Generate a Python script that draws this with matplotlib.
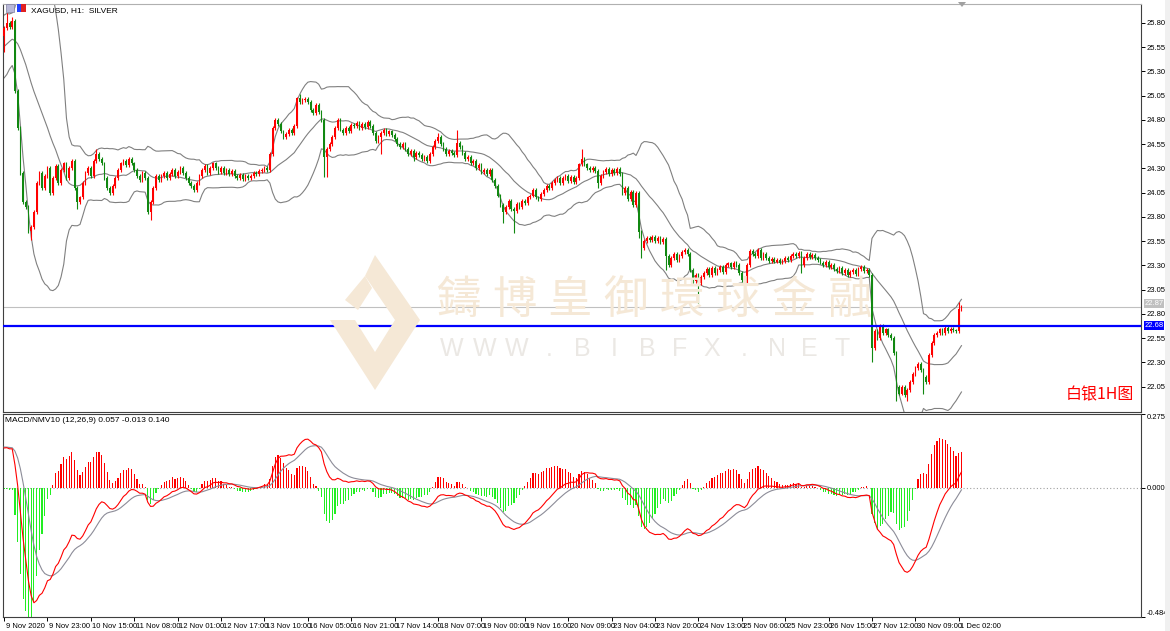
import matplotlib
matplotlib.use('Agg')
import matplotlib.pyplot as plt
from matplotlib.patches import Rectangle, Polygon
from matplotlib.transforms import blended_transform_factory, ScaledTranslation
import pandas as pd

plt.rcParams['font.family'] = ['Liberation Sans', 'DejaVu Sans']

# H1 closes before the first visible bar (only feed the indicators)
history = [24.62, 24.70, 24.66, 24.75, 24.80, 24.78, 24.85, 24.82, 24.90, 24.95,
           24.92, 24.98, 25.02, 24.97, 25.05, 25.10, 25.06, 25.12, 25.15, 25.10,
           25.12, 25.18, 25.14, 25.20, 25.24, 25.19, 25.26, 25.22, 25.28, 25.25,
           25.22, 25.28, 25.25, 25.34, 25.40, 25.36, 25.45, 25.50, 25.46, 25.55,
           25.60, 25.56, 25.64, 25.70, 25.66, 25.74, 25.78, 25.72, 25.70, 25.66]

# visible H1 closes, 9 Nov 2020 -> 1 Dec 2020
closes = [
    25.75, 25.80, 25.76, 25.82, 25.10, 24.72, 24.25, 23.95, 23.90, 23.65, 23.70, 23.85, 24.15,
    24.25, 24.10, 24.22, 24.30, 24.05, 24.20, 24.32, 24.15, 24.28, 24.35, 24.20,
    24.30, 24.38, 24.10, 23.95, 24.00, 24.15, 24.25,
    24.30, 24.22, 24.38, 24.45, 24.40, 24.35,
    24.20, 24.10, 24.05, 24.12, 24.20, 24.28, 24.35, 24.38, 24.33, 24.40,
    24.35, 24.28, 24.22, 24.18, 24.25, 24.20,
    23.85, 23.95, 24.10, 24.22,
    24.18, 24.22, 24.25, 24.20, 24.24, 24.28, 24.22, 24.26, 24.30, 24.25,
    24.20, 24.15, 24.12, 24.08, 24.15, 24.22, 24.28, 24.32, 24.25, 24.30,
    24.35, 24.30, 24.26, 24.30, 24.25, 24.28, 24.24, 24.27, 24.22, 24.20,
    24.23, 24.19, 24.22, 24.20, 24.22, 24.25, 24.24, 24.27, 24.28, 24.30,
    24.28,
    24.45, 24.72, 24.80, 24.76,
    24.68, 24.62, 24.65, 24.70, 24.66, 24.74,
    25.02,
    24.98, 25.00, 25.01, 24.98,
    24.90, 24.87, 24.95, 24.88, 24.80,
    24.42,
    24.50, 24.55,
    24.62, 24.72, 24.80,
    24.70, 24.66, 24.72, 24.68,
    24.75, 24.74, 24.77, 24.72, 24.76, 24.73, 24.78, 24.74,
    24.66, 24.58, 24.62, 24.66,
    24.70, 24.65, 24.68, 24.64,
    24.60, 24.55, 24.52, 24.55, 24.50,
    24.45, 24.48, 24.42, 24.46, 24.44,
    24.40, 24.42, 24.38,
    24.45, 24.52, 24.58, 24.62,
    24.55, 24.50, 24.45, 24.48,
    24.46, 24.44, 24.56, 24.52,
    24.46, 24.40, 24.42, 24.35, 24.38, 24.30, 24.33, 24.26, 24.28, 24.24, 24.28,
    24.18, 24.12,
    24.02, 23.92, 23.85, 23.90,
    23.96, 23.88, 23.86, 23.93,
    23.90, 23.96, 23.94, 24.00, 24.02,
    24.08, 24.00, 23.98, 24.04,
    24.08, 24.12, 24.10, 24.15, 24.18,
    24.20, 24.15, 24.20, 24.22, 24.17, 24.21, 24.16, 24.20,
    24.34, 24.40,
    24.34, 24.30, 24.28,
    24.30, 24.27,
    24.15, 24.22,
    24.26, 24.29, 24.24, 24.28, 24.25, 24.29, 24.24,
    24.05,
    24.10, 23.98, 24.06, 23.92, 24.05,
    23.64,
    23.48, 23.55, 23.58,
    23.56, 23.59, 23.55, 23.58, 23.54, 23.57,
    23.40, 23.30,
    23.38, 23.42, 23.36, 23.40,
    23.44, 23.46, 23.42,
    23.25, 23.14,
    23.20, 23.12, 23.18, 23.22,
    23.26, 23.20, 23.27, 23.22, 23.25, 23.28, 23.23, 23.30,
    23.32, 23.28, 23.33, 23.30,
    23.22, 23.15, 23.12,
    23.30, 23.45, 23.42,
    23.40, 23.46, 23.38, 23.42,
    23.38, 23.35, 23.37, 23.34, 23.36, 23.33, 23.35, 23.38, 23.36, 23.40, 23.42,
    23.40, 23.43,
    23.30,
    23.38, 23.42, 23.39, 23.41, 23.38, 23.36,
    23.33, 23.30, 23.34, 23.28, 23.30,
    23.26, 23.24, 23.27, 23.22, 23.25, 23.20, 23.23, 23.25, 23.21,
    23.26, 23.28, 23.24, 23.25, 23.20,
    22.45,
    22.62, 22.55, 22.68, 22.60, 22.64, 22.58, 22.55,
    22.40, 22.05,
    21.98, 22.05, 21.96, 22.02,
    22.10, 22.18, 22.24, 22.28, 22.22,
    22.15, 22.10,
    22.38,
    22.50, 22.58, 22.60,
    22.64, 22.60, 22.66, 22.62, 22.65, 22.63, 22.62,
    22.85, 22.87,
]

# wick extremes that stand out in the picture (bar index -> price)
highs = {1: 25.90, 3: 25.86, 34: 24.50, 109: 25.07, 160: 24.66, 167: 24.70,
         213: 24.50, 352: 22.92}
lows = {0: 25.50, 10: 23.56, 27: 23.88, 54: 23.77, 118: 24.21, 119: 24.21,
        139: 24.45, 151: 24.38, 184: 23.74, 188: 23.63, 219: 24.10, 234: 23.58,
        235: 23.38, 244: 23.25, 256: 22.91, 294: 23.22, 320: 22.30, 329: 21.90,
        333: 21.90, 339: 21.98}

date_labels = ['9 Nov 2020', '9 Nov 23:00', '10 Nov 15:00', '11 Nov 08:00', '12 Nov 01:00',
               '12 Nov 17:00', '13 Nov 10:00', '16 Nov 05:00', '16 Nov 21:00', '17 Nov 14:00',
               '18 Nov 07:00', '19 Nov 00:00', '19 Nov 16:00', '20 Nov 09:00', '23 Nov 04:00',
               '23 Nov 20:00', '24 Nov 13:00', '25 Nov 06:00', '25 Nov 23:00', '26 Nov 15:00',
               '27 Nov 12:00', '30 Nov 09:00', '1 Dec 02:00']
price_ticks = [22.05, 22.30, 22.55, 22.80, 23.05, 23.30, 23.55, 23.80, 24.05,
               24.30, 24.55, 24.80, 25.05, 25.30, 25.55, 25.80]
level_line = 22.68
last_price = 22.87
macd_ticks = [0.275, 0.0, -0.484]
macd_title_values = [0.057, -0.013, 0.140]

W, H = 1170, 631
RED = '#ff0000'
GREEN = '#118811'

# indicators
s = pd.Series(history + closes)
n0 = len(history)
mid = s.rolling(20).mean()
sd = s.rolling(20).std(ddof=0)
upper = (mid + 2 * sd).iloc[n0:].values
lower = (mid - 2 * sd).iloc[n0:].values
mid = mid.iloc[n0:].values
dif = s.ewm(span=12, adjust=False).mean() - s.ewm(span=26, adjust=False).mean()
dea = dif.ewm(span=9, adjust=False).mean()
hist = (2 * (dif - dea)).iloc[n0:].values
dif = dif.iloc[n0:].values
dea = dea.iloc[n0:].values

x = list(range(len(closes)))
opens = [history[-1]] + closes[:-1]
hi = [highs.get(i, max(o, c) + 0.02) for i, (o, c) in enumerate(zip(opens, closes))]
lo = [lows.get(i, min(o, c) - 0.02) for i, (o, c) in enumerate(zip(opens, closes))]
cols = [RED if c > o else (GREEN if c < o else 'black') for o, c in zip(opens, closes)]

fig = plt.figure(figsize=(W / 100, H / 100), dpi=100)
fig.patch.set_facecolor('white')
ax = fig.add_axes([3 / W, 1 - 412 / H, 1138 / W, 408 / H])
ax2 = fig.add_axes([3 / W, 1 - 617 / H, 1138 / W, 203 / H])

# watermark
wm = '#f5e8d6'
for k, ch in enumerate('鑄博皇御環球金融'):
    fig.text((458 + k * 56) / W, 1 - 300 / H, ch, fontsize=32, color=wm,
             family=['Noto Sans CJK TC', 'DejaVu Sans'], ha='center', va='center', zorder=0)
for k, ch in enumerate('WWW.BIBFX.NET'):
    fig.text((452 + k * 32.5) / W, 1 - 349 / H, ch, fontsize=18, color='#ebe8e4',
             ha='center', va='center', zorder=0)
logo = [[(375, 255), (420, 320), (395, 320), (365, 276)],
        [(330, 320), (375, 390), (420, 320), (395, 320), (375, 352), (355, 320)],
        [(345, 300), (365, 276), (372, 288), (358, 310)]]
for pts in logo:
    fig.patches.append(Polygon([(px / W, 1 - py / H) for px, py in pts], closed=True,
                               transform=fig.transFigure, facecolor=wm, edgecolor='none', zorder=0))

# candles
ax.vlines(x, lo, hi, colors=cols, linewidth=0.8, zorder=3)
bodies = [max(abs(c - o), 0.006) for o, c in zip(opens, closes)]
ax.bar(x, bodies, bottom=[min(o, c) for o, c in zip(opens, closes)], width=0.62,
       color=cols, linewidth=0, zorder=4)
for band in (upper, mid, lower):
    ax.plot(x, band, color='#808080', linewidth=0.8, zorder=2)
ax.axhline(level_line, color='#0000ff', linewidth=1.6, zorder=5)
ax.axhline(last_price, color='#c0c0c0', linewidth=0.8, zorder=1)

ax.set_xlim(-0.4, 419.2)
ax.set_ylim(21.79, 25.993)
ax.set_xticks([])
ax.yaxis.tick_right()
ax.set_yticks(price_ticks)
ax.set_yticklabels(['%.2f' % t for t in price_ticks])
ax.tick_params(axis='y', length=3, width=0.7, labelsize=5.5, pad=1)

tr = blended_transform_factory(ax.transAxes, ax.transData)
ax.text(1.003, last_price + 0.035, '%.2f' % last_price, transform=tr, fontsize=5.5, color='white',
        va='center', ha='left', bbox=dict(facecolor='#c0c0c0', edgecolor='none', pad=0.6), zorder=6)
ax.text(1.003, level_line, '%.2f' % level_line, transform=tr, fontsize=5.5, color='white',
        va='center', ha='left', bbox=dict(facecolor='#0000ff', edgecolor='none', pad=0.6), zorder=6)

ax.text(0.025, 0.992, 'XAGUSD, H1:  SILVER', transform=ax.transAxes, fontsize=6, va='top', ha='left')
fig.patches.append(Rectangle((6 / W, 1 - 12 / H), 8 / W, 8 / H, transform=fig.transFigure,
                             facecolor='#b8b8d8', edgecolor='#8080a0', linewidth=0.5))
fig.patches.append(Rectangle((17 / W, 1 - 12 / H), 4 / W, 8 / H, transform=fig.transFigure,
                             facecolor='#2040ff', edgecolor='none'))
fig.patches.append(Rectangle((21 / W, 1 - 12 / H), 5 / W, 8 / H, transform=fig.transFigure,
                             facecolor='#e02020', edgecolor='none'))

fig.text(1100 / W, 1 - 395 / H, '白银1H图', fontsize=11.5, color='red',
         family=['Noto Sans CJK SC', 'DejaVu Sans'], ha='center', va='center')

# MACD panel
hcols = [RED if v >= 0 else '#22ee22' for v in hist]
ax2.bar(x, hist, width=0.42, color=hcols, linewidth=0, zorder=2)
ax2.axhline(0, color='#a0a0a0', linewidth=0.8, linestyle=(0, (1, 2)), zorder=1)
ax2.plot(x, dea, color='#8c8c98', linewidth=0.8, zorder=3)
ax2.plot(x, dif, color=RED, linewidth=0.8, zorder=4)
ax2.set_xlim(-0.4, 419.2)
ax2.set_ylim(-0.484, 0.275)
ax2.yaxis.tick_right()
ax2.set_yticks(macd_ticks)
ax2.set_yticklabels(['0.275', '0.000', '-0.484'])
ax2.tick_params(axis='y', length=3, width=0.7, labelsize=5.5, pad=1)
ylabs = ax2.get_yticklabels()
ylabs[0].set_va('top')
ylabs[2].set_va('bottom')
ax2.set_xticks([i * 16 for i in range(len(date_labels))])
ax2.set_xticklabels(date_labels, ha='left')
ax2.tick_params(axis='x', length=3, width=0.7, labelsize=5.5, pad=1)
off = ScaledTranslation(1.5 / 100, 0, fig.dpi_scale_trans)
for lab in ax2.get_xticklabels():
    lab.set_transform(lab.get_transform() + off)
ax2.text(0.002, 0.985, 'MACD/NMV10 (12,26,9) %.3f %.3f %.3f' % tuple(macd_title_values),
         transform=ax2.transAxes, fontsize=6, va='top', ha='left')

for a in (ax, ax2):
    for sp in a.spines.values():
        sp.set_color('#404040')
        sp.set_linewidth(0.8)
ax.spines['top'].set_color('#b0b0b0')

# chart-shift marker and right margin strip
fig.patches.append(Polygon([(958 / W, 1 - 2 / H), (966 / W, 1 - 2 / H), (962 / W, 1 - 7 / H)],
                           closed=True, transform=fig.transFigure, facecolor='#a0a0a0', edgecolor='none'))
fig.patches.append(Rectangle((1165 / W, 0), 5 / W, 1, transform=fig.transFigure,
                             facecolor='#f0f0f0', edgecolor='none'))

fig.savefig('out.png', dpi=100)
